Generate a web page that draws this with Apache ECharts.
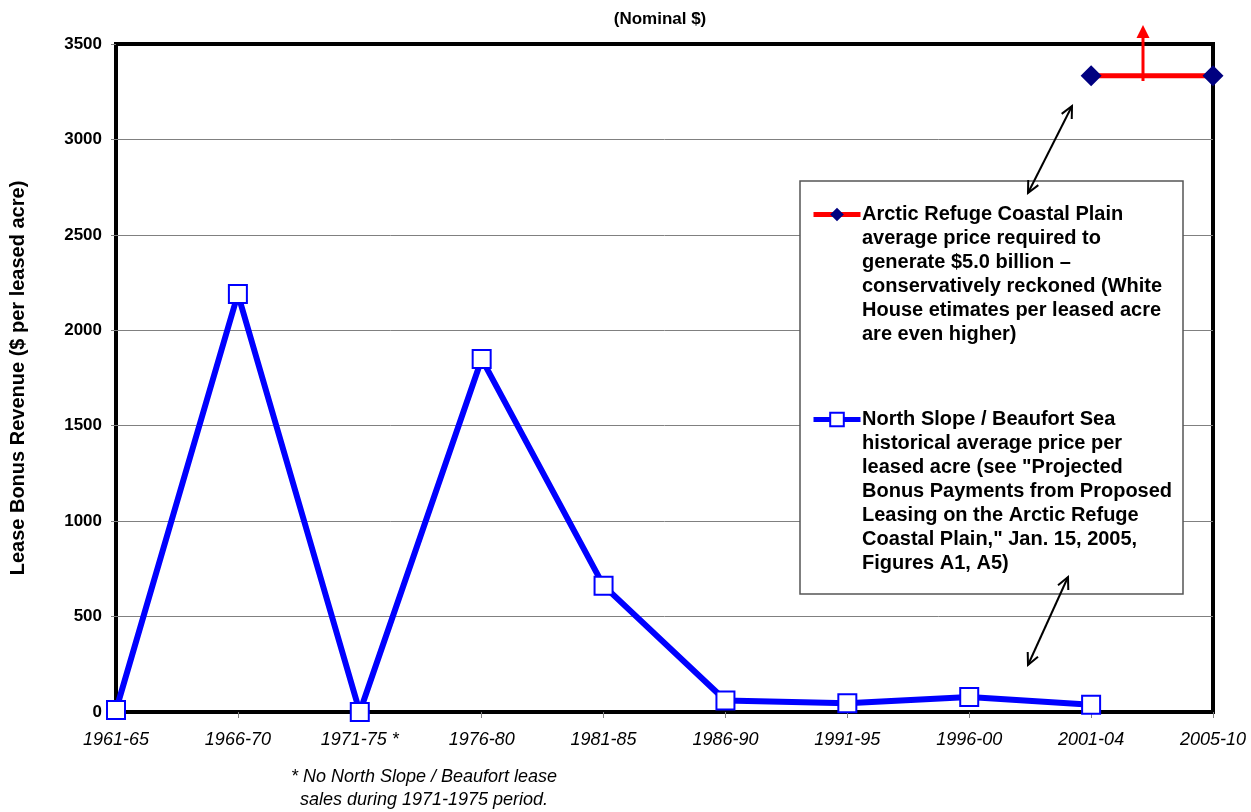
<!DOCTYPE html>
<html><head><meta charset="utf-8">
<script src="https://cdn.jsdelivr.net/npm/echarts@6/dist/echarts.min.js"></script>
<style>html,body{margin:0;padding:0;background:#fff}#c{width:1251px;height:812px}</style>
</head><body><div id="c"></div>
<script>
// ---- data ----
const categories = ['1961-65','1966-70','1971-75 *','1976-80','1981-85','1986-90','1991-95','1996-00','2001-04','2005-10'];
const northSlope = [10, 2190, 0, 1850, 662, 60, 46, 78, 38, null];
const arcticRefuge = [null, null, null, null, null, null, null, null, 3333, 3333];
const yMin = 0, yMax = 3500, yInterval = 500;
const titleText = '(Nominal $)';
const yName = 'Lease Bonus Revenue ($ per leased acre)';
const nameArctic = 'Arctic Refuge Coastal Plain';
const nameNorth = 'North Slope / Beaufort Sea';
const legendArctic = ['Arctic Refuge Coastal Plain','average price required to','generate $5.0 billion \u2013','conservatively reckoned (White','House etimates per leased acre','are even higher)'];
const legendNorth = ['North Slope / Beaufort Sea','historical average price per','leased acre (see "Projected','Bonus Payments from Proposed','Leasing on the Arctic Refuge','Coastal Plain," Jan. 15, 2005,','Figures A1, A5)'];
const footnote = ['* No North Slope / Beaufort lease','sales during 1971-1975 period.'];

const FF = '"Liberation Sans", Arial, Helvetica, sans-serif';

function dblArrow(x1, y1, x2, y2) {
  const els = [{type:'line', z:20, shape:{x1:x1,y1:y1,x2:x2,y2:y2}, style:{stroke:'#000', lineWidth:2}}];
  const L = 13, a = Math.PI / 7;
  [[x1,y1,x2,y2],[x2,y2,x1,y1]].forEach(function(p){
    const ax=p[0], ay=p[1], bx=p[2], by=p[3];
    const t = Math.atan2(ay-by, ax-bx);
    els.push({type:'polyline', z:20, shape:{points:[
      [ax - L*Math.cos(t+a), ay - L*Math.sin(t+a)], [ax, ay], [ax - L*Math.cos(t-a), ay - L*Math.sin(t-a)]
    ]}, style:{stroke:'#000', lineWidth:2, fill:null}});
  });
  return els;
}

const chart = echarts.init(document.getElementById('c'), null, {renderer:'canvas'});
const graphics = [
  {type:'rect', z:3, shape:{x:800, y:181, width:383, height:413}, style:{fill:'#fff', stroke:'#555', lineWidth:1.5}},
  {type:'text', z:5, style:{x:862, y:202, text:legendArctic.join('\n'), font:'bold 20px ' + FF, lineHeight:24, fill:'#000', verticalAlign:'top'}},
  {type:'text', z:5, style:{x:862, y:407, text:legendNorth.join('\n'), font:'bold 20px ' + FF, lineHeight:24, fill:'#000', verticalAlign:'top'}},
  {type:'text', z:5, style:{x:424, y:765, text:footnote.join('\n'), font:'italic 18px ' + FF, lineHeight:23, fill:'#000', align:'center', verticalAlign:'top'}},
  {type:'line', z:20, shape:{x1:1143, y1:81, x2:1143, y2:36}, style:{stroke:'#ff0000', lineWidth:3}},
  {type:'polygon', z:20, shape:{points:[[1143,25],[1136.5,38],[1149.5,38]]}, style:{fill:'#ff0000'}}
].concat(dblArrow(1028,193,1072,106)).concat(dblArrow(1028,665,1068,577));

chart.setOption({
  animation: false,
  title: {text: titleText, left: 655, top: 6, textAlign: 'center',
    textStyle: {fontSize: 17, fontWeight: 'bold', fontFamily: FF, color: '#000'}},
  grid: {left: 116, right: 38, top: 44, bottom: 100, show: true, borderColor: '#000', borderWidth: 4, backgroundColor: 'transparent'},
  legend: [
    {data:[nameArctic], left: 811, top: 206, padding: 0, itemWidth: 47, itemHeight: 17, selectedMode: false, z: 6,
      formatter: function(){ return ''; }, lineStyle: {width: 5}},
    {data:[nameNorth], left: 811, top: 411, padding: 0, itemWidth: 47, itemHeight: 17, selectedMode: false, z: 6,
      formatter: function(){ return ''; }, lineStyle: {width: 5}}
  ],
  xAxis: {
    type: 'category', data: categories, boundaryGap: false,
    axisLine: {show: false},
    axisTick: {show: true, length: 6, lineStyle: {color: '#808080', width: 1}},
    axisLabel: {interval: 0, margin: 19, color: '#000', fontSize: 18, fontStyle: 'italic', fontFamily: FF},
    splitLine: {show: false}
  },
  yAxis: {
    type: 'value', min: yMin, max: yMax, interval: yInterval,
    name: yName, nameLocation: 'middle', nameRotate: 90, nameGap: 88,
    nameTextStyle: {fontSize: 20, fontWeight: 'bold', fontFamily: FF, color: '#000'},
    axisLine: {show: false},
    axisTick: {show: true, length: 5, lineStyle: {color: '#808080', width: 1}},
    axisLabel: {margin: 14, color: '#000', fontSize: 17, fontWeight: 'bold', fontFamily: FF,
      formatter: function(v){ return String(v); }},
    splitLine: {show: true, showMinLine: false, showMaxLine: false, lineStyle: {color: '#808080', width: 1}}
  },
  graphic: graphics,
  series: [
    {name: nameArctic, type: 'line', data: arcticRefuge, symbol: 'diamond', symbolSize: 21, clip: false, z: 4,
      lineStyle: {color: '#ff0000', width: 5}, itemStyle: {color: '#000080'}, emphasis: {disabled: true}},
    {name: nameNorth, type: 'line', data: northSlope, symbol: 'rect', symbolSize: 18, showAllSymbol: true, clip: false, z: 4,
      lineStyle: {color: '#0000ff', width: 6}, itemStyle: {color: '#ffffff', borderColor: '#0000ff', borderWidth: 2}, emphasis: {disabled: true}}
  ]
});
</script>
</body></html>
